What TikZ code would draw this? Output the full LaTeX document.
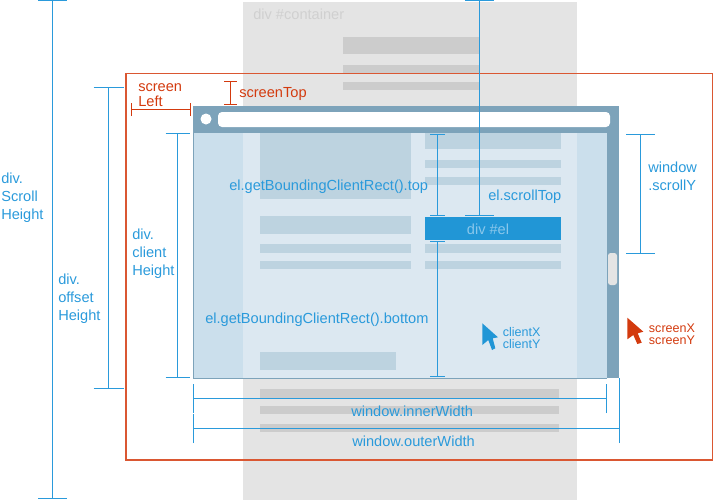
\documentclass[tikz,border=0pt]{standalone}
\usepackage{fontspec}
\setmainfont{Liberation Sans}
\definecolor{mblue}{HTML}{2A9ADB}
\definecolor{mred}{HTML}{D33A0E}
\definecolor{frame}{HTML}{7DA3BA}
\definecolor{contA}{HTML}{CBDFEC}
\definecolor{contB}{HTML}{DCE8F1}
\definecolor{barA}{HTML}{BDD3E0}
\definecolor{barB}{HTML}{CCCCCC}
\definecolor{contG}{HTML}{E4E4E4}
\definecolor{elblue}{HTML}{2196D6}
\newcommand{\dimV}[6]{% name,colour,x,y1,y2,half cap
  \coordinate (#1a) at (#3,#4);
  \coordinate (#1b) at (#3,#5);
  \draw[#2] (#1a) -- (#1b);
  \draw[#2] ([xshift=-#6*0.75pt]#1a) -- ([xshift=#6*0.75pt]#1a);
  \draw[#2] ([xshift=-#6*0.75pt]#1b) -- ([xshift=#6*0.75pt]#1b);}
\newcommand{\dimH}[6]{% name,colour,y,x1,x2,half cap
  \coordinate (#1a) at (#4,#3);
  \coordinate (#1b) at (#5,#3);
  \draw[#2] (#1a) -- (#1b);
  \draw[#2] ([yshift=-#6*0.75pt]#1a) -- ([yshift=#6*0.75pt]#1a);
  \draw[#2] ([yshift=-#6*0.75pt]#1b) -- ([yshift=#6*0.75pt]#1b);}
\tikzset{
  bluedim/.style={draw=mblue,line width=1.15pt},
  reddim/.style={draw=mred,line width=1.15pt},
  lab/.style={inner sep=0pt,anchor=base west,font=\fontsize{10.95pt}{13.5pt}\selectfont},
  multi/.style={inner sep=0pt,anchor=north west,align=left,font=\fontsize{10.95pt}{13.5pt}\selectfont},
  tight/.style={inner sep=0pt,anchor=north west,align=left,font=\fontsize{10.95pt}{10.9pt}\selectfont},
  small/.style={inner sep=0pt,anchor=north west,align=left,font=\fontsize{9.4pt}{9pt}\selectfont},
  bluetxt/.style={text=mblue},
  redtxt/.style={text=mred},
}
\begin{document}
\begin{tikzpicture}[x=0.75pt,y=-0.75pt]
\useasboundingbox (0,0) rectangle (713,500);
% container
\fill[contG] (243,2) rectangle (577,500);
\foreach \a/\b/\c/\d in {343/37/479/54,343/65/479/74,343/82/479/90,260/389/559/398,260/406/559/414,260/424/559/432}
  \fill[barB] (\a,\b) rectangle (\c,\d);
\node[lab,text=barB!85!contG] (container) at (253,19) {div \#container};
% screen frame
\draw[mred!85!white,line width=1.1pt] (126,73.5) rectangle (712.5,460);
% browser
\fill[frame] (193,106) rectangle (619,133);
\fill[frame] (607,133) rectangle (619,378);
\fill[contA] (193,133) rectangle (607,378);
\fill[contB] (243,133) rectangle (577,378);
\draw[frame,line width=0.7pt] (193,133) -- (193,378) -- (607,378);
\foreach \a/\b/\c/\d in {260/133/411/199,260/216/411/234,260/244/411/253,260/261/411/269,260/352/396/370,425/133/561/149,425/160/561/168,425/177/561/185,425/244/561/253,425/261/561/269}
  \fill[barA] (\a,\b) rectangle (\c,\d);
\fill[white,rounded corners=3pt] (218,112) rectangle (610,127);
\fill[white] (206,119) circle (5.5);
\fill[contG,rounded corners=2pt] (608,253) rectangle (617,285);
\node[fill=elblue,minimum width=102pt,minimum height=17.25pt,inner sep=0pt,anchor=north west] (el) at (425,217) {};
\node[lab,anchor=base,text=white!45!mblue] (ellabel) at (488,234) {div \#el};
% blue dimensions
\dimV{sh}{bluedim}{52.5}{0.5}{498.5}{14.5}
\dimV{oh}{bluedim}{108.5}{87.5}{388.5}{15}
\dimV{ch}{bluedim}{177.5}{133.5}{377.5}{12}
\dimV{sy}{bluedim}{640.5}{134.5}{253.5}{14.5}
\dimV{st}{bluedim}{479.5}{0.5}{215.5}{14.5}
\dimV{bt}{bluedim}{437.5}{134.5}{215.5}{7.5}
\dimV{bb}{bluedim}{437.5}{241.5}{376.5}{7.5}
\dimH{iw}{bluedim}{398.5}{193.5}{606.5}{14.5}
\dimH{ow}{bluedim}{428.5}{193.5}{619.5}{14.5}
\coordinate (owtop) at (619.5,378);
\draw[bluedim] (owb) -- (owtop);
% red dimensions
\dimH{sl}{reddim}{109.5}{131.5}{190.5}{6.5}
\dimV{stp}{reddim}{230.5}{81.5}{104.5}{6.5}
% labels
\node[multi,bluetxt] (l1) at (1,172.5) {div.\\Scroll\\Height};
\node[multi,bluetxt] (l2) at (58,273.5) {div.\\offset\\Height};
\node[multi,bluetxt] (l3) at (132,228.5) {div.\\client\\Height};
\node[tight,redtxt] (l4) at (138,83.5) {screen\\Left};
\node[lab,redtxt] (l5) at (239,97) {screenTop};
\node[lab,bluetxt] (l6) at (229,190) {el.getBoundingClientRect().top};
\node[lab,bluetxt] (l7) at (205,323) {el.getBoundingClientRect().bottom};
\node[lab,bluetxt] (l8) at (488,200) {el.scrollTop};
\node[multi,bluetxt] (l9) at (648,161.5) {window\\.scrollY};
\node[lab,bluetxt] (l10) at (351,416) {window.innerWidth};
\node[lab,bluetxt] (l11) at (352,446) {window.outerWidth};
\node[small,bluetxt] (l12) at (502.5,327) {clientX\\clientY};
\node[small,redtxt] (l13) at (648.7,324) {screenX\\screenY};
% cursors
\fill[elblue] (482.3,323.3) -- (498,337.3) -- (492.7,338.3) -- (495.3,348.3) -- (492,350) -- (488.3,340) -- (482.3,345) -- cycle;
\fill[mred] (627.3,317.7) -- (643.3,331.7) -- (637.7,333.3) -- (641.7,342.7) -- (637.3,344) -- (633.3,335) -- (627.3,339.3) -- cycle;
\end{tikzpicture}
\end{document}
